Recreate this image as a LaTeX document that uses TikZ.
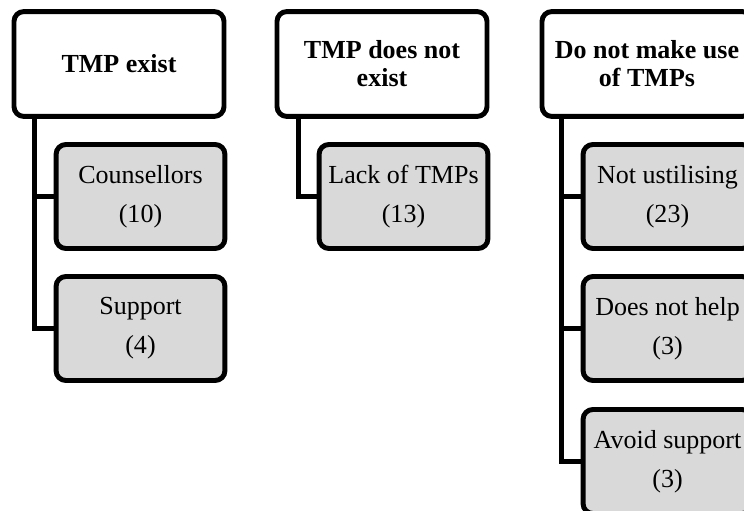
\documentclass[tikz,border=0pt]{standalone}
\usepackage{fontspec}
\setmainfont{Liberation Serif}
\usetikzlibrary{positioning}

\begin{document}
\begin{tikzpicture}[x=0.025cm,y=-0.025cm,line width=3.5pt,
		head/.style={draw, rounded corners=7pt, fill=white, minimum width=5.25cm, minimum height=2.62cm, align=center, font=\bfseries\fontsize{18.5}{20}\selectfont, inner sep=0pt},
		leaf/.style={draw, rounded corners=7pt, fill=gray!30, minimum width=4.22cm, minimum height=2.6cm, align=center, font=\fontsize{18.5}{27.7}\selectfont, inner sep=0pt},
		link/.style={line cap=rect}]
	\useasboundingbox (0,0) rectangle (744,511);

	% first column
	\node[head] (exist) at (119,64) {TMP exist};
	\node[leaf] (couns) at (140.5,196.5) {Counsellors\\(10)};
	\node[leaf] (supp) at (140.5,328.5) {Support\\(4)};
	\draw[link] ([xshift=0.58cm]exist.south west) coordinate (t1) |- (couns.west);
	\draw[link] (t1) |- (supp.west);

	% second column
	\node[head] (noexist) at (382,64) {TMP does not\\exist};
	\node[leaf] (lack) at (403.5,196.5) {Lack of TMPs\\(13)};
	\draw[link] ([xshift=0.6cm]noexist.south west) |- (lack.west);

	% third column
	\node[head] (nouse) at (647,64) {Do not make use\\of TMPs};
	\node[leaf] (notutil) at (667.5,196.5) {Not ustilising\\(23)};
	\node[leaf] (nohelp) at (667.5,328.5) {Does not help\\(3)};
	\node[leaf] (avoid) at (667.5,461.5) {Avoid support\\(3)};
	\draw[link] ([xshift=0.55cm]nouse.south west) coordinate (t3) |- (notutil.west);
	\draw[link] (t3) |- (nohelp.west);
	\draw[link] (t3) |- (avoid.west);
\end{tikzpicture}
\end{document}
